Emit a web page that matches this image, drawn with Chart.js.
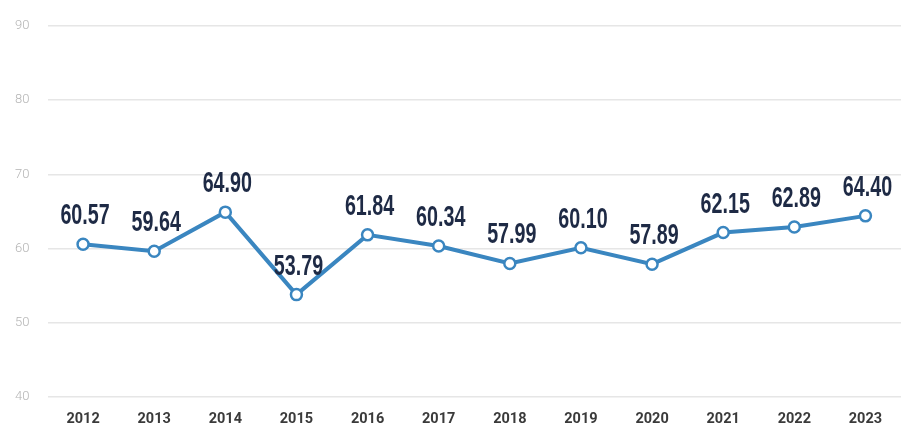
<!DOCTYPE html>
<html>
<head>
<meta charset="utf-8">
<script src="https://cdn.jsdelivr.net/npm/chart.js@4"></script>
<style>
html,body{margin:0;padding:0;background:#fff;}
#wrap{width:909px;height:427px;position:relative;}
</style>
</head>
<body>
<div id="wrap"><canvas id="c"></canvas></div>
<script>
const categories = ["2012","2013","2014","2015","2016","2017","2018","2019","2020","2021","2022","2023"];
const values = [60.57,59.64,64.90,53.79,61.84,60.34,57.99,60.10,57.89,62.15,62.89,64.40];
const valueLabels = ["60.57","59.64","64.90","53.79","61.84","60.34","57.99","60.10","57.89","62.15","62.89","64.40"];
const yTicks = [40,50,60,70,80,90];

const labelPlugin = {
  id: 'valueLabels',
  afterDatasetsDraw(chart) {
    const ctx = chart.ctx;
    const meta = chart.getDatasetMeta(0);
    ctx.save();
    ctx.fillStyle = '#1e2a45';
    ctx.font = 'bold 29px "Liberation Sans", Arial, sans-serif';
    ctx.textAlign = 'center';
    ctx.textBaseline = 'alphabetic';
    meta.data.forEach((pt, i) => {
      ctx.save();
      ctx.translate(pt.x + 2, pt.y - 20);
      ctx.scale(0.68, 1);
      ctx.fillText(valueLabels[i], 0, 0);
      ctx.restore();
    });
    ctx.restore();
  }
};

new Chart(document.getElementById('c'), {
  type: 'line',
  data: {
    labels: categories,
    datasets: [{
      data: values,
      borderColor: '#3a86c0',
      borderWidth: 4,
      pointRadius: 5.5,
      pointBorderWidth: 2.5,
      pointBackgroundColor: '#ffffff',
      pointBorderColor: '#3a86c0',
      tension: 0,
      fill: false
    }]
  },
  options: {
    responsive: true,
    maintainAspectRatio: false,
    animation: false,
    layout: { padding: { top: 24, right: 7, left: 0, bottom: 0 } },
    plugins: { legend: { display: false }, tooltip: { enabled: false } },
    scales: {
      x: {
        offset: true,
        grid: { display: false, drawTicks: false },
        border: { display: false },
        ticks: { color: '#3a3a3a', font: { family: 'Roboto, sans-serif', size: 14.5, weight: 'bold' }, padding: 14 },
        afterFit(s) { s.height = 30; }
      },
      y: {
        min: 40, max: 90,
        afterBuildTicks(s) { s.ticks = yTicks.map(v => ({ value: v })); },
        grid: { color: '#e6e6e6', lineWidth: 1.5, drawTicks: false },
        border: { display: false },
        ticks: { color: '#b4b4b4', font: { family: 'Roboto, sans-serif', size: 13, weight: '300' }, padding: 18 },
        afterFit(s) { s.width = 47.5; }
      }
    }
  },
  plugins: [labelPlugin]
});
</script>
</body>
</html>
